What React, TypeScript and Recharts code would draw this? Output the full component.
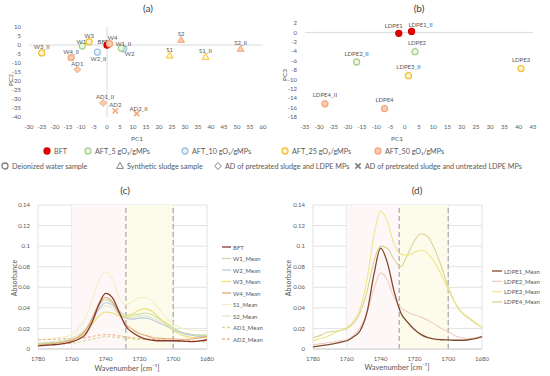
import React from "react"
import {
  ScatterChart,
  Scatter,
  LineChart,
  Line,
  XAxis,
  YAxis,
  CartesianGrid,
  ReferenceLine,
  ReferenceArea,
} from "recharts"

const FONT = "Lato, 'Open Sans', sans-serif"
const TXT = "#595959"

// ---- (a) PCA scores PC1 / PC2 ----
const samplesA = ["BFT", "W1", "W2", "W3", "W4", "W1_II", "W2_II", "W3_II", "W4_II", "S1", "S2", "S1_II", "S2_II", "AD1", "AD2", "AD1_II", "AD2_II"]
const pc1A = [0, -9.5, 6.4, -6.9, 1.0, 5.5, -3.7, -25.1, -13.8, 24.1, 28.5, 37.9, 51.4, -11.4, 3.2, -1.5, 11.4]
const pc2A = [0, -0.6, -2.2, 1.8, 0.7, -1.7, -4.0, -4.4, -7.0, -5.9, 2.8, -6.6, -2.2, -13.6, -36.6, -32.2, -38.1]
const doseA = ["BFT", "5", "10", "25", "50", "5", "10", "25", "50", "25", "50", "25", "50", "50", "50", "50", "50"]
const kindA = ["water", "water", "water", "water", "water", "water", "water", "water", "water", "sludge", "sludge", "sludge", "sludge", "adp", "adu", "adp", "adu"]
const ticksA_x = [-30, -25, -20, -15, -10, -5, 0, 5, 10, 15, 20, 25, 30, 35, 40, 45, 50, 55, 60]
const ticksA_y = [10, 5, 0, -5, -10, -15, -20, -25, -30, -35, -40]

// ---- (b) PCA scores PC1 / PC3 ----
const samplesB = ["LDPE1", "LDPE1_II", "LDPE2", "LDPE2_II", "LDPE3", "LDPE3_II", "LDPE4", "LDPE4_II"]
const pc1B = [-2.1, 2.4, 3.6, -16.9, 40.8, 1.3, -7.1, -28.0]
const pc3B = [-0.2, 0.2, -4.1, -6.3, -7.7, -9.2, -16.2, -15.2]
const doseB = ["BFT", "BFT", "5", "5", "25", "25", "50", "50"]
const ticksB_x = [-35, -30, -25, -20, -15, -10, -5, 0, 5, 10, 15, 20, 25, 30, 35, 40, 45]
const ticksB_y = [2, 0, -2, -4, -6, -8, -10, -12, -14, -16, -18]

// ---- (c), (d) FTIR spectra ----
const wavenumbers = [1780, 1776, 1772, 1768, 1764, 1760, 1756, 1752, 1748, 1744, 1740, 1736, 1732, 1728, 1724, 1720, 1716, 1712, 1708, 1704, 1700, 1696, 1692, 1688, 1684, 1680]
const bft = [0.003, 0.0035, 0.004, 0.0045, 0.0055, 0.007, 0.0095, 0.014, 0.026, 0.043, 0.054, 0.05, 0.036, 0.022, 0.016, 0.012, 0.0095, 0.0085, 0.008, 0.008, 0.008, 0.0078, 0.0074, 0.0072, 0.0078, 0.009]
const w1 = [0.005, 0.0055, 0.006, 0.0065, 0.0075, 0.009, 0.012, 0.018, 0.029, 0.042, 0.048, 0.045, 0.037, 0.033, 0.033, 0.034, 0.035, 0.033, 0.029, 0.025, 0.021, 0.017, 0.015, 0.014, 0.013, 0.013]
const w2 = [0.005, 0.0055, 0.006, 0.0065, 0.0075, 0.009, 0.012, 0.017, 0.027, 0.039, 0.045, 0.043, 0.035, 0.03, 0.029, 0.03, 0.03, 0.028, 0.025, 0.022, 0.019, 0.016, 0.014, 0.013, 0.012, 0.012]
const w3 = [0.004, 0.0045, 0.005, 0.006, 0.007, 0.008, 0.011, 0.016, 0.024, 0.032, 0.036, 0.035, 0.032, 0.031, 0.034, 0.038, 0.039, 0.036, 0.03, 0.024, 0.018, 0.014, 0.012, 0.011, 0.011, 0.011]
const w4 = [0.004, 0.0045, 0.005, 0.006, 0.007, 0.0085, 0.012, 0.018, 0.03, 0.044, 0.05, 0.046, 0.034, 0.024, 0.019, 0.015, 0.013, 0.011, 0.0105, 0.01, 0.01, 0.0095, 0.0095, 0.01, 0.011, 0.012]
const s1 = [0.009, 0.0095, 0.01, 0.011, 0.012, 0.014, 0.02, 0.03, 0.047, 0.066, 0.075, 0.068, 0.05, 0.043, 0.046, 0.05, 0.05, 0.046, 0.038, 0.03, 0.025, 0.021, 0.019, 0.018, 0.018, 0.018]
const s2 = [0.006, 0.0065, 0.007, 0.008, 0.009, 0.011, 0.014, 0.019, 0.028, 0.038, 0.042, 0.04, 0.034, 0.031, 0.031, 0.032, 0.032, 0.03, 0.027, 0.023, 0.02, 0.017, 0.015, 0.014, 0.014, 0.014]
const ad1 = [0.004, 0.004, 0.0042, 0.0045, 0.005, 0.0055, 0.0065, 0.008, 0.0095, 0.011, 0.012, 0.0118, 0.011, 0.0105, 0.0098, 0.0092, 0.009, 0.0088, 0.0085, 0.0082, 0.008, 0.0078, 0.0076, 0.0074, 0.0072, 0.007]
const ad2 = [0.009, 0.0092, 0.0094, 0.0096, 0.0098, 0.01, 0.0105, 0.011, 0.0122, 0.0134, 0.014, 0.0138, 0.0128, 0.0118, 0.011, 0.0102, 0.0098, 0.0094, 0.009, 0.0088, 0.0086, 0.0084, 0.0082, 0.008, 0.0078, 0.0076]
const ldpe1 = [0.002, 0.003, 0.004, 0.005, 0.0065, 0.008, 0.012, 0.018, 0.036, 0.072, 0.098, 0.084, 0.056, 0.035, 0.026, 0.019, 0.014, 0.011, 0.0095, 0.009, 0.0088, 0.0085, 0.0085, 0.009, 0.01, 0.012]
const ldpe2 = [0.004, 0.005, 0.006, 0.007, 0.008, 0.009, 0.013, 0.021, 0.036, 0.058, 0.074, 0.067, 0.05, 0.04, 0.036, 0.033, 0.031, 0.028, 0.024, 0.02, 0.017, 0.013, 0.011, 0.01, 0.011, 0.012]
const ldpe3 = [0.008, 0.01, 0.012, 0.015, 0.018, 0.021, 0.027, 0.04, 0.068, 0.11, 0.134, 0.124, 0.102, 0.092, 0.091, 0.094, 0.096, 0.093, 0.084, 0.072, 0.058, 0.045, 0.036, 0.031, 0.026, 0.021]
const ldpe4 = [0.011, 0.013, 0.016, 0.017, 0.018, 0.02, 0.025, 0.036, 0.056, 0.085, 0.1, 0.098, 0.087, 0.08, 0.092, 0.105, 0.112, 0.109, 0.097, 0.08, 0.06, 0.045, 0.035, 0.03, 0.025, 0.021]
const absTicks = [0, 0.02, 0.04, 0.06, 0.08, 0.1, 0.12, 0.14]
const waveTicks = [1780, 1760, 1740, 1720, 1700, 1680]

const DOSE: Record<string, { stroke: string; fill: string }> = {
  BFT: { stroke: "#d40000", fill: "#e60000" },
  "5": { stroke: "#a9d18e", fill: "#eef6e8" },
  "10": { stroke: "#9dc3e6", fill: "#eaf2fa" },
  "25": { stroke: "#f2c230", fill: "#fff6d5" },
  "50": { stroke: "#f4a77a", fill: "#f9cdb2" },
}

// label offset from marker (dx, dy) where it is not the default "above"
const LABEL_OFF: Record<string, [number, number]> = {
  BFT: [-4, -4],
  W4: [3, -6],
  W1: [-1, -5],
  W1_II: [2, -5],
  W2: [6, 5],
  W2_II: [1, 6],
  AD1_II: [2, -6],
  AD2_II: [2, -5],
  LDPE1: [-5, -8],
  LDPE1_II: [9, -7],
  LDPE2: [2, -9],
}

const shapeMarker = (kind: string, cx: number, cy: number, st: { stroke: string; fill: string }) => {
  if (kind === "sludge")
    return <polygon points={`${cx},${cy - 3.6} ${cx + 3.4},${cy + 2.4} ${cx - 3.4},${cy + 2.4}`} fill={st.fill} stroke={st.stroke} strokeWidth={1} />
  if (kind === "adp")
    return <polygon points={`${cx},${cy - 3.4} ${cx + 3.4},${cy} ${cx},${cy + 3.4} ${cx - 3.4},${cy}`} fill={st.fill} stroke={st.stroke} strokeWidth={1} />
  if (kind === "adu")
    return (
      <g stroke={st.stroke} strokeWidth={1.6}>
        <line x1={cx - 2.6} y1={cy - 2.6} x2={cx + 2.6} y2={cy + 2.6} />
        <line x1={cx - 2.6} y1={cy + 2.6} x2={cx + 2.6} y2={cy - 2.6} />
      </g>
    )
  return <circle cx={cx} cy={cy} r={3} fill={st.fill} stroke={st.stroke} strokeWidth={1.3} />
}

const renderPoint = (defaultDy: number) => (props: any) => {
  const { cx, cy, payload } = props
  const st = DOSE[payload.dose]
  const [dx, dy] = LABEL_OFF[payload.name] ?? [0, defaultDy]
  return (
    <g>
      {shapeMarker(payload.kind, cx, cy, st)}
      <text x={cx + dx} y={cy + dy} textAnchor="middle" dominantBaseline="central" fontSize={6} fill={TXT} fontFamily={FONT}>
        {payload.name}
      </text>
    </g>
  )
}

const pcaA = samplesA.map((name, i) => ({ name, x: pc1A[i], y: pc2A[i], dose: doseA[i], kind: kindA[i] }))
const pcaB = samplesB.map((name, i) => ({ name, x: pc1B[i], y: pc3B[i], dose: doseB[i], kind: "water" }))
const spectra = wavenumbers.map((w, i) => ({
  w,
  BFT: bft[i],
  W1_Mean: w1[i],
  W2_Mean: w2[i],
  W3_Mean: w3[i],
  W4_Mean: w4[i],
  S1_Mean: s1[i],
  S2_Mean: s2[i],
  AD1_Mean: ad1[i],
  AD2_Mean: ad2[i],
  LDPE1_Mean: ldpe1[i],
  LDPE2_Mean: ldpe2[i],
  LDPE3_Mean: ldpe3[i],
  LDPE4_Mean: ldpe4[i],
}))

const seriesC = [
  { key: "S1_Mean", color: "#f4eec6", dash: undefined },
  { key: "S2_Mean", color: "#dfe8c8", dash: undefined },
  { key: "W2_Mean", color: "#bccbe0", dash: undefined },
  { key: "W1_Mean", color: "#c9dba8", dash: undefined },
  { key: "W3_Mean", color: "#eee070", dash: undefined },
  { key: "W4_Mean", color: "#e2a874", dash: undefined },
  { key: "AD1_Mean", color: "#d3d99c", dash: "3 2" },
  { key: "AD2_Mean", color: "#f0b58c", dash: "3 2" },
  { key: "BFT", color: "#86392c", dash: undefined },
]
const legendC = ["BFT", "W1_Mean", "W2_Mean", "W3_Mean", "W4_Mean", "S1_Mean", "S2_Mean", "AD1_Mean", "AD2_Mean"]
const seriesD = [
  { key: "LDPE2_Mean", color: "#f0cfc4" },
  { key: "LDPE4_Mean", color: "#d8d496" },
  { key: "LDPE3_Mean", color: "#efe68a" },
  { key: "LDPE1_Mean", color: "#7f4a2a" },
]
const legendD = ["LDPE1_Mean", "LDPE2_Mean", "LDPE3_Mean", "LDPE4_Mean"]

const tickStyle = { fontSize: 6, fill: TXT, fontFamily: FONT }

const Spectra = ({ series, cut }: { series: { key: string; color: string; dash?: string }[]; cut: number }) => (
  <LineChart width={215} height={201} data={spectra} margin={{ top: 30, right: 8, left: 16, bottom: 15 }}>
    <ReferenceArea x1={1760} x2={cut} fill="#fef7f8" fillOpacity={1} stroke="none" />
    <ReferenceArea x1={cut} x2={1700} fill="#fdfbec" fillOpacity={1} stroke="none" />
    <CartesianGrid stroke="#e2e2e2" />
    <XAxis dataKey="w" type="number" domain={[1680, 1780]} reversed ticks={waveTicks} interval={0} tick={tickStyle} axisLine={{ stroke: "#d0d0d0" }} tickLine={false} height={12} />
    <YAxis type="number" domain={[0, 0.14]} ticks={absTicks} interval={0} tick={tickStyle} axisLine={false} tickLine={false} width={22} />
    <ReferenceLine x={cut} stroke="#a6a6a6" strokeDasharray="5 3" strokeWidth={1.2} />
    <ReferenceLine x={1700} stroke="#a6a6a6" strokeDasharray="5 3" strokeWidth={1.2} />
    {series.map((s) => (
      <Line key={s.key} type="monotone" dataKey={s.key} stroke={s.color} strokeWidth={s.key === "BFT" || s.key === "LDPE1_Mean" ? 1.3 : 1.1} strokeDasharray={s.dash} dot={false} isAnimationActive={false} />
    ))}
  </LineChart>
)

const colorOf = (list: { key: string; color: string; dash?: string }[], k: string) => list.find((s) => s.key === k)!

export default function App() {
  return (
    <div style={{ position: "absolute", left: 0, top: 0, width: 550, height: 376, background: "#fff", fontFamily: FONT }}>
      <div style={{ position: "absolute", left: 0, top: 0 }}>
        <ScatterChart width={275} height={135} margin={{ top: 27, right: 12, left: 9, bottom: 8 }}>
          <XAxis dataKey="x" type="number" domain={[-30, 60]} ticks={ticksA_x} interval={0} tick={tickStyle} axisLine={false} tickLine={false} height={10} />
          <YAxis dataKey="y" type="number" domain={[-40, 10]} ticks={ticksA_y} interval={0} tick={tickStyle} axisLine={false} tickLine={false} width={20} />
          <ReferenceLine y={0} stroke="#dadada" />
          <ReferenceLine x={0} stroke="#dadada" />
          <Scatter data={pcaA} shape={renderPoint(-6)} isAnimationActive={false} />
        </ScatterChart>
      </div>
      <div style={{ position: "absolute", left: 275, top: 0 }}>
        <ScatterChart width={275} height={135} margin={{ top: 23, right: 17, left: 10, bottom: 8 }}>
          <XAxis dataKey="x" type="number" domain={[-35, 45]} ticks={ticksB_x} interval={0} tick={tickStyle} axisLine={false} tickLine={false} height={10} />
          <YAxis dataKey="y" type="number" domain={[-18, 2]} ticks={ticksB_y} interval={0} tick={tickStyle} axisLine={false} tickLine={false} width={20} />
          <ReferenceLine y={0} stroke="#dadada" />
          <Scatter data={pcaB} shape={renderPoint(-9)} isAnimationActive={false} />
        </ScatterChart>
      </div>
      <div style={{ position: "absolute", left: 0, top: 175 }}>
        <Spectra series={seriesC} cut={1728} />
      </div>
      <div style={{ position: "absolute", left: 275, top: 175 }}>
        <Spectra series={seriesD} cut={1729} />
      </div>

      <svg width={550} height={376} style={{ position: "absolute", left: 0, top: 0, pointerEvents: "none" }} fontFamily={FONT}>
        <g fill="#404040" fontSize={10} textAnchor="middle" dominantBaseline="central">
          <text x={148} y={8}>(a)</text>
          <text x={419} y={8}>(b)</text>
          <text x={125} y={190}>(c)</text>
          <text x={417} y={190}>(d)</text>
        </g>
        <g fill={TXT} fontSize={6.5} textAnchor="middle" dominantBaseline="central">
          <text x={137} y={138}>PC1</text>
          <text x={397} y={138}>PC1</text>
          <text transform="translate(10,80) rotate(-90)">PC2</text>
          <text transform="translate(284,75) rotate(-90)">PC3</text>
          <text fontSize={7} transform="translate(14,278) rotate(-90)">Absorbance</text>
          <text fontSize={7} transform="translate(288,278) rotate(-90)">Absorbance</text>
          <text fontSize={7.5} x={127} y={368}>Wavenumber [cm⁻¹]</text>
          <text fontSize={7.5} x={397} y={367}>Wavenumber [cm⁻¹]</text>
        </g>

        {/* legend of (a)/(b) */}
        <g fontSize={7.2} fill={TXT} dominantBaseline="central">
          {[
            { d: "BFT", x: 47, t: "BFT" },
            { d: "5", x: 88, t: "AFT_5 gO₃/gMPs" },
            { d: "10", x: 185, t: "AFT_10 gO₃/gMPs" },
            { d: "25", x: 285, t: "AFT_25 gO₃/gMPs" },
            { d: "50", x: 378, t: "AFT_50 gO₃/gMPs" },
          ].map((it) => (
            <g key={it.d}>
              {shapeMarker("water", it.x, 151, DOSE[it.d])}
              <text x={it.x + 7} y={151}>{it.t}</text>
            </g>
          ))}
        </g>
        <g fontSize={7.2} fill={TXT} dominantBaseline="central">
          {[
            { k: "water", x: 5, t: "Deionized water sample" },
            { k: "sludge", x: 120, t: "Synthetic sludge sample" },
            { k: "adp", x: 218, t: "AD of pretreated sludge and LDPE MPs" },
            { k: "adu", x: 358, t: "AD of pretreated sludge and untreated LDPE MPs" },
          ].map((it) => (
            <g key={it.k}>
              {shapeMarker(it.k, it.x, 166, { stroke: "#7f7f7f", fill: "#ffffff" })}
              <text x={it.x + 7} y={166}>{it.t}</text>
            </g>
          ))}
        </g>

        {/* legend of (c) */}
        <g fontSize={6} fill={TXT} dominantBaseline="central">
          {legendC.map((k, i) => {
            const s = colorOf(seriesC, k)
            const y = 247 + i * 11.5
            return (
              <g key={k}>
                <line x1={222} x2={231} y1={y} y2={y} stroke={s.color} strokeWidth={1.3} strokeDasharray={s.dash} />
                <text x={233} y={y}>{k}</text>
              </g>
            )
          })}
        </g>
        {/* legend of (d) */}
        <g fontSize={6} fill={TXT} dominantBaseline="central">
          {legendD.map((k, i) => {
            const s = colorOf(seriesD, k)
            const y = 271 + i * 10.3
            return (
              <g key={k}>
                <line x1={492} x2={502} y1={y} y2={y} stroke={s.color} strokeWidth={1.3} />
                <text x={504} y={y}>{k}</text>
              </g>
            )
          })}
        </g>
      </svg>
    </div>
  )
}
